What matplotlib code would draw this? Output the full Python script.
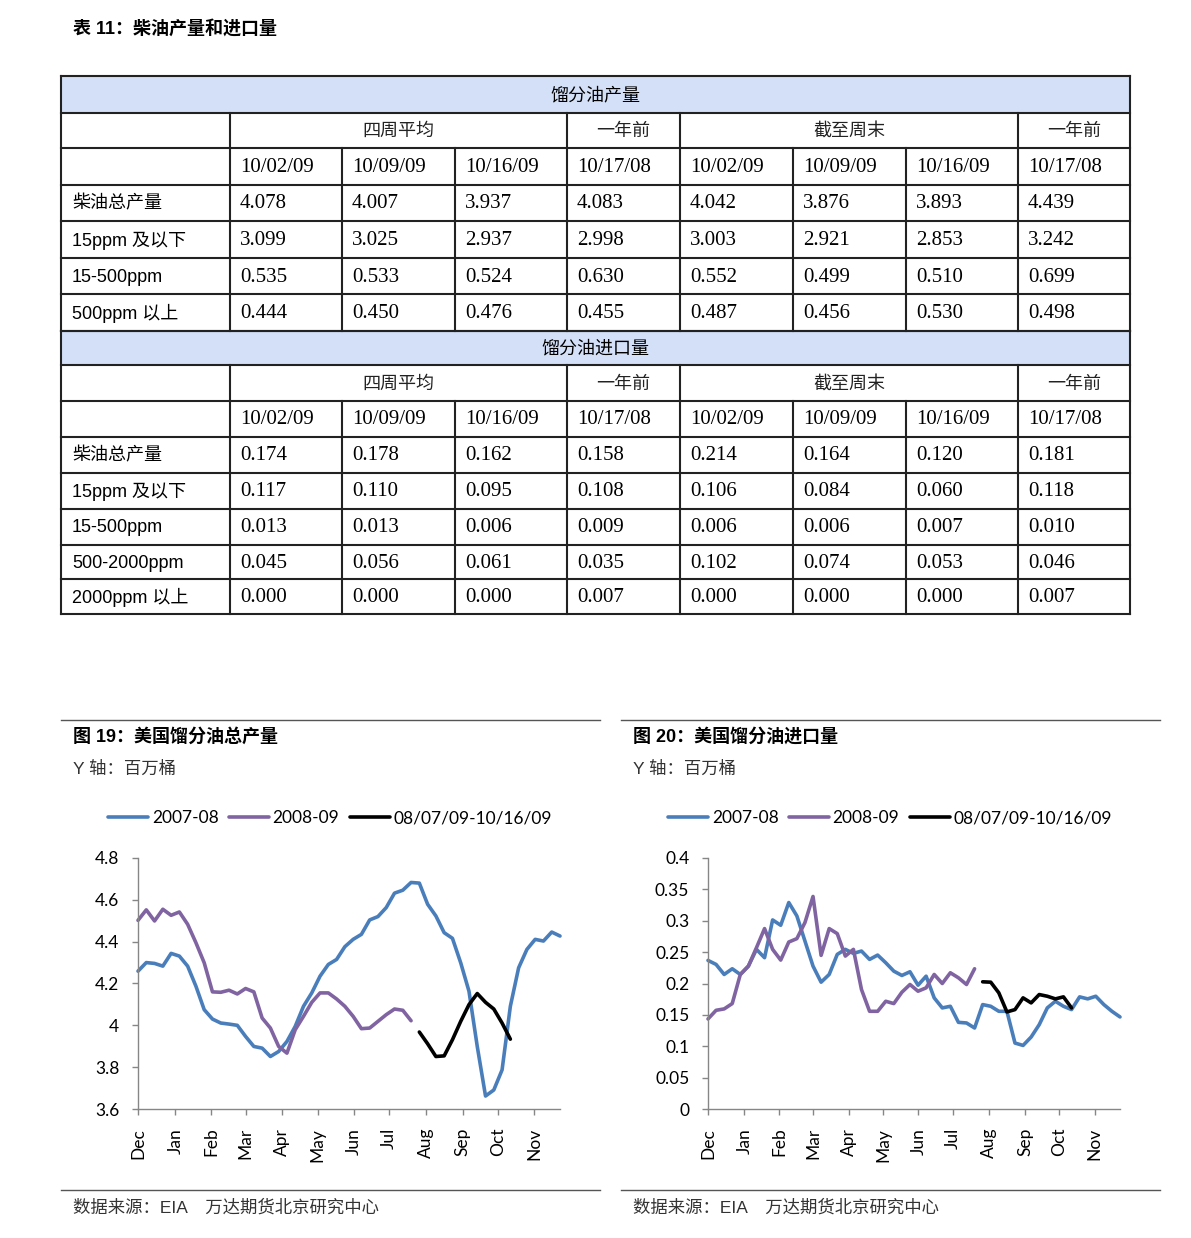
import matplotlib
matplotlib.use("Agg")
import matplotlib.pyplot as plt
from matplotlib.patches import Rectangle
import numpy as np

# ---------------- data ----------------
table_title = "表 11：柴油产量和进口量"
dates = ["10/02/09", "10/09/09", "10/16/09", "10/17/08",
         "10/02/09", "10/09/09", "10/16/09", "10/17/08"]
group_labels = ["四周平均", "一年前", "截至周末", "一年前"]

prod_title = "馏分油产量"
prod_labels = ["柴油总产量", "15ppm 及以下", "15-500ppm", "500ppm 以上"]
prod_values = [
    [4.078, 4.007, 3.937, 4.083, 4.042, 3.876, 3.893, 4.439],
    [3.099, 3.025, 2.937, 2.998, 3.003, 2.921, 2.853, 3.242],
    [0.535, 0.533, 0.524, 0.630, 0.552, 0.499, 0.510, 0.699],
    [0.444, 0.450, 0.476, 0.455, 0.487, 0.456, 0.530, 0.498],
]

imp_title = "馏分油进口量"
imp_labels = ["柴油总产量", "15ppm 及以下", "15-500ppm", "500-2000ppm", "2000ppm 以上"]
imp_values = [
    [0.174, 0.178, 0.162, 0.158, 0.214, 0.164, 0.120, 0.181],
    [0.117, 0.110, 0.095, 0.108, 0.106, 0.084, 0.060, 0.118],
    [0.013, 0.013, 0.006, 0.009, 0.006, 0.006, 0.007, 0.010],
    [0.045, 0.056, 0.061, 0.035, 0.102, 0.074, 0.053, 0.046],
    [0.000, 0.000, 0.000, 0.007, 0.000, 0.000, 0.000, 0.007],
]

months = ["Dec", "Jan", "Feb", "Mar", "Apr", "May", "Jun", "Jul", "Aug", "Sep", "Oct", "Nov"]
series_names = ["2007-08", "2008-09", "08/07/09-10/16/09"]

# Chart 19: total distillate production (weekly)
prod_0708 = [4.259, 4.300, 4.296, 4.283, 4.344, 4.331, 4.283, 4.187, 4.075, 4.030,
             4.011, 4.006, 4.000, 3.947, 3.899, 3.891, 3.851, 3.875, 3.923, 3.995,
             4.091, 4.155, 4.235, 4.291, 4.315, 4.376, 4.411, 4.435, 4.504, 4.520,
             4.563, 4.632, 4.646, 4.683, 4.680, 4.579, 4.523, 4.443, 4.416, 4.299,
             4.163, 3.899, 3.662, 3.691, 3.787, 4.091, 4.275, 4.363, 4.411, 4.403,
             4.446, 4.427]
prod_0809 = [4.502, 4.552, 4.499, 4.555, 4.526, 4.542, 4.483, 4.395, 4.299, 4.160,
             4.158, 4.168, 4.150, 4.176, 4.160, 4.035, 3.987, 3.899, 3.867, 3.979,
             4.043, 4.110, 4.155, 4.155, 4.126, 4.091, 4.043, 3.984, 3.987, 4.019,
             4.051, 4.078, 4.072, 4.022]
prod_09 = [3.968, 3.912, 3.851, 3.854, 3.931, 4.019, 4.099, 4.152, 4.110, 4.078,
           4.011, 3.934]

# Chart 20: distillate imports (weekly)
imp_0708 = [0.2368, 0.2304, 0.2144, 0.2235, 0.2144, 0.2277, 0.2544, 0.2411, 0.3013, 0.2928,
            0.3290, 0.3077, 0.2677, 0.2277, 0.2021, 0.2144, 0.2464, 0.2544, 0.2480, 0.2517,
            0.2384, 0.2453, 0.2331, 0.2197, 0.2128, 0.2187, 0.1973, 0.2117, 0.1771, 0.1611,
            0.1637, 0.1381, 0.1371, 0.1291, 0.1664, 0.1637, 0.1557, 0.1557, 0.1051, 0.1013,
            0.1147, 0.1344, 0.1611, 0.1717, 0.1637, 0.1584, 0.1787, 0.1755, 0.1797, 0.1664,
            0.1557, 0.1467]
imp_0809 = [0.1435, 0.1573, 0.1595, 0.1680, 0.2144, 0.2277, 0.2571, 0.2875, 0.2544, 0.2373,
            0.2661, 0.2715, 0.2971, 0.3387, 0.2448, 0.2875, 0.2795, 0.2437, 0.2544, 0.1904,
            0.1557, 0.1557, 0.1717, 0.1680, 0.1861, 0.1984, 0.1877, 0.1931, 0.2144, 0.2000,
            0.2171, 0.2091, 0.1984, 0.2235]
imp_09 = [0.2027, 0.2021, 0.1851, 0.1547, 0.1584, 0.1771, 0.1691, 0.1824, 0.1797, 0.1755,
          0.1787, 0.1611]

# ---------------- layout / style ----------------
W, H = 1191, 1238
fig = plt.figure(figsize=(W / 100, H / 100), dpi=100)
fig.patch.set_facecolor("white")

ov = fig.add_axes([0, 0, 1, 1])
ov.set_xlim(0, W)
ov.set_ylim(H, 0)
ov.axis("off")

CJK_SANS = ["Liberation Sans", "Noto Sans CJK SC"]
CJK_SERIF = ["Liberation Serif", "Noto Sans CJK SC"]
HEADER_BG = "#D3E0F7"
LINE_C = "#222222"

ov.text(73, 29, table_title, fontsize=13, fontweight="bold", family=CJK_SANS,
        va="center", ha="left")

col_x = [61, 230, 342, 455, 567, 680, 793, 906, 1018, 1130]
rows_prod = [76, 113, 148, 185, 221, 258, 294, 331]
rows_imp = [331, 365, 401, 437, 473, 509, 545, 579, 614]


def draw_section(ys, title, labels, values):
    ov.add_patch(Rectangle((col_x[0], ys[0]), col_x[-1] - col_x[0], ys[1] - ys[0],
                           facecolor=HEADER_BG, edgecolor="none", zorder=1))
    ov.text((col_x[0] + col_x[-1]) / 2, (ys[0] + ys[1]) / 2 + 1, title, fontsize=13,
            family=CJK_SERIF, ha="center", va="center", zorder=3)
    spans = [(1, 4), (4, 5), (5, 8), (8, 9)]
    for (a, b), g in zip(spans, group_labels):
        ov.text((col_x[a] + col_x[b]) / 2, (ys[1] + ys[2]) / 2 + 1, g, fontsize=13,
                family=CJK_SERIF, ha="center", va="center", color="#222222", zorder=3)
    for j, d in enumerate(dates):
        ov.text(col_x[j + 1] + 10, (ys[2] + ys[3]) / 2 + 1, d, fontsize=15,
                family=CJK_SERIF, ha="left", va="center", zorder=3)
    for i, (lab, vals) in enumerate(zip(labels, values)):
        yc = (ys[3 + i] + ys[4 + i]) / 2 + 1
        fam = CJK_SERIF if lab[0] not in "0123456789" else CJK_SANS
        ov.text(72, yc, lab, fontsize=13, family=fam, ha="left", va="center", zorder=3)
        for j, v in enumerate(vals):
            ov.text(col_x[j + 1] + 10, yc, f"{v:.3f}", fontsize=15, family=CJK_SERIF,
                    ha="left", va="center", zorder=3)
    for y in ys:
        ov.plot([col_x[0], col_x[-1]], [y, y], color=LINE_C, lw=1.5, zorder=4,
                solid_capstyle="projecting")
    ov.plot([col_x[0]] * 2, [ys[0], ys[-1]], color=LINE_C, lw=1.5, zorder=4)
    ov.plot([col_x[-1]] * 2, [ys[0], ys[-1]], color=LINE_C, lw=1.5, zorder=4)
    for k, x in enumerate(col_x[1:-1], start=1):
        top = ys[2] if k in (2, 3, 6, 7) else ys[1]
        ov.plot([x, x], [top, ys[-1]], color=LINE_C, lw=1.5, zorder=4)


draw_section(rows_prod, prod_title, prod_labels, prod_values)
draw_section(rows_imp, imp_title, imp_labels, imp_values)

# ---------------- charts ----------------
BLUE = "#4A7EBB"
PURPLE = "#8064A2"
BLACK = "#000000"
AX_C = "#868686"
month_ticks = [0, 4.5, 8.85, 13.0, 17.4, 21.7, 26.05, 30.35, 34.8, 39.25, 43.5, 47.85]


def make_chart(px_left, px_right, s1, s2, s3, ylim, yticks, ylabels, leg_cx):
    top, bottom = 858, 1109
    ax = fig.add_axes([px_left / W, 1 - bottom / H, (px_right - px_left) / W,
                       (bottom - top) / H])
    x1 = np.arange(len(s1))
    x2 = np.arange(len(s2))
    x3 = np.arange(len(s3)) + len(s2)
    kw = dict(lw=2.6, solid_joinstyle="round", solid_capstyle="round")
    ax.plot(x1, s1, color=BLUE, label=series_names[0], **kw)
    ax.plot(x2, s2, color=PURPLE, label=series_names[1], **kw)
    ax.plot(x3, s3, color=BLACK, label=series_names[2], **kw)
    ax.set_xlim(0, len(s1) - 1)
    ax.set_ylim(*ylim)
    ax.set_yticks(yticks)
    ax.set_yticklabels(ylabels, family="Lato", fontsize=12.5)
    ax.set_xticks(month_ticks)
    ax.set_xticklabels(months, rotation=90, family="Lato", fontsize=12.5)
    for sp in ("top", "right"):
        ax.spines[sp].set_visible(False)
    for sp in ("left", "bottom"):
        ax.spines[sp].set_color(AX_C)
        ax.spines[sp].set_linewidth(1.0)
    ax.tick_params(axis="y", length=4.5, width=1.0, color=AX_C, pad=9)
    ax.tick_params(axis="x", length=4.5, width=1.0, color=AX_C, pad=9)
    ax.patch.set_alpha(0)
    for l in ax.get_lines():
        l.set_clip_on(False)
    ax.legend(loc="center", bbox_to_anchor=(leg_cx / W, 1 - 818 / H),
              bbox_transform=fig.transFigure, ncol=3, frameon=False,
              prop={"family": "Lato", "size": 12.5}, handlelength=2.3,
              handletextpad=0.2, columnspacing=0.6, borderpad=0, borderaxespad=0)
    return ax


make_chart(138, 560, prod_0708, prod_0809, prod_09, (3.6, 4.8),
           [3.6, 3.8, 4.0, 4.2, 4.4, 4.6, 4.8],
           ["3.6", "3.8", "4", "4.2", "4.4", "4.6", "4.8"], 330)
make_chart(708, 1120, imp_0708, imp_0809, imp_09, (0, 0.4),
           [0, 0.05, 0.1, 0.15, 0.2, 0.25, 0.3, 0.35, 0.4],
           ["0", "0.05", "0.1", "0.15", "0.2", "0.25", "0.3", "0.35", "0.4"], 890)

panels = [(61, 600, "图 19：美国馏分油总产量"), (621, 1160, "图 20：美国馏分油进口量")]
for x0, x1, t in panels:
    ov.plot([x0, x1], [720, 720], color="#555555", lw=1.0)
    ov.plot([x0, x1], [1190, 1190], color="#555555", lw=1.0)
    ov.text(x0 + 12, 737, t, fontsize=13, fontweight="bold", family=CJK_SANS,
            ha="left", va="center")
    ov.text(x0 + 12, 769, "Y 轴：百万桶", fontsize=12.5, family=CJK_SANS,
            ha="left", va="center", color="#333333")
    ov.text(x0 + 12, 1207, "数据来源：EIA　万达期货北京研究中心", fontsize=12.5,
            family=CJK_SANS, ha="left", va="center", color="#333333")

fig.savefig("out.png", dpi=100, facecolor="white")
